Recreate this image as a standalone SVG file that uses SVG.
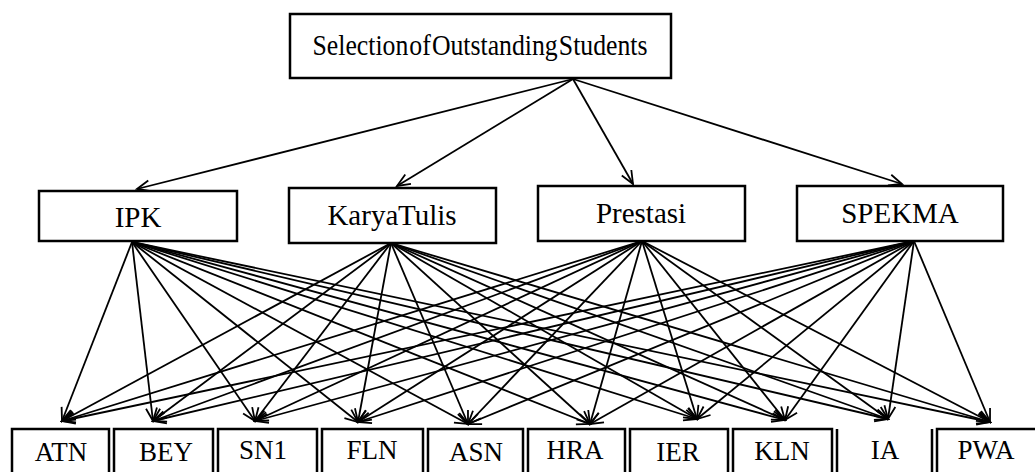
<svg xmlns="http://www.w3.org/2000/svg" width="1035" height="472" viewBox="0 0 1035 472">
<style>
.box{fill:#fff;stroke:#000;stroke-width:2.5}
.t{font-family:"Liberation Serif","Times New Roman",serif;fill:#000;text-anchor:middle}
.tt{font-size:29px;word-spacing:-6px}
.mt{font-size:29px;word-spacing:-7px}
.bt{font-size:27px}
.c{stroke:#000;stroke-width:1.8;fill:none;marker-end:url(#ah)}
</style>
<defs>
<marker id="ah" markerWidth="16" markerHeight="14" refX="14" refY="7" orient="auto" markerUnits="userSpaceOnUse">
<path d="M1,1.5 L14,7 L1,12.5" fill="none" stroke="#000" stroke-width="1.8"/>
</marker>
</defs>
<rect width="1035" height="472" fill="#fff"/>
<g id="connectors">
<line class="c" x1="573" y1="79" x2="137" y2="189"/>
<line class="c" x1="573" y1="79" x2="397" y2="186"/>
<line class="c" x1="573" y1="79" x2="633" y2="184"/>
<line class="c" x1="573" y1="79" x2="902" y2="184"/>
<g id="from-ipk">
<line class="c" x1="132" y1="242" x2="62" y2="421"/>
<line class="c" x1="132" y1="242" x2="153" y2="421"/>
<line class="c" x1="132" y1="242" x2="255" y2="421"/>
<line class="c" x1="132" y1="242" x2="358" y2="422"/>
<line class="c" x1="132" y1="242" x2="468" y2="424"/>
<line class="c" x1="132" y1="242" x2="590" y2="424"/>
<line class="c" x1="132" y1="242" x2="697" y2="419"/>
<line class="c" x1="132" y1="242" x2="785" y2="420"/>
<line class="c" x1="132" y1="242" x2="888" y2="419"/>
<line class="c" x1="132" y1="242" x2="990" y2="422"/>
</g>
<g id="from-karya">
<line class="c" x1="391" y1="243" x2="62" y2="421"/>
<line class="c" x1="391" y1="243" x2="153" y2="421"/>
<line class="c" x1="391" y1="243" x2="255" y2="421"/>
<line class="c" x1="391" y1="243" x2="358" y2="422"/>
<line class="c" x1="391" y1="243" x2="468" y2="424"/>
<line class="c" x1="391" y1="243" x2="590" y2="424"/>
<line class="c" x1="391" y1="243" x2="697" y2="419"/>
<line class="c" x1="391" y1="243" x2="785" y2="420"/>
<line class="c" x1="391" y1="243" x2="888" y2="419"/>
<line class="c" x1="391" y1="243" x2="990" y2="422"/>
</g>
<g id="from-prestasi">
<line class="c" x1="642" y1="241" x2="62" y2="421"/>
<line class="c" x1="642" y1="241" x2="153" y2="421"/>
<line class="c" x1="642" y1="241" x2="255" y2="421"/>
<line class="c" x1="642" y1="241" x2="358" y2="422"/>
<line class="c" x1="642" y1="241" x2="468" y2="424"/>
<line class="c" x1="642" y1="241" x2="590" y2="424"/>
<line class="c" x1="642" y1="241" x2="697" y2="419"/>
<line class="c" x1="642" y1="241" x2="785" y2="420"/>
<line class="c" x1="642" y1="241" x2="888" y2="419"/>
<line class="c" x1="642" y1="241" x2="990" y2="422"/>
</g>
<g id="from-spekma">
<line class="c" x1="914" y1="241" x2="62" y2="421"/>
<line class="c" x1="914" y1="241" x2="153" y2="421"/>
<line class="c" x1="914" y1="241" x2="255" y2="421"/>
<line class="c" x1="914" y1="241" x2="358" y2="422"/>
<line class="c" x1="914" y1="241" x2="468" y2="424"/>
<line class="c" x1="914" y1="241" x2="590" y2="424"/>
<line class="c" x1="914" y1="241" x2="697" y2="419"/>
<line class="c" x1="914" y1="241" x2="785" y2="420"/>
<line class="c" x1="914" y1="241" x2="888" y2="419"/>
<line class="c" x1="914" y1="241" x2="990" y2="422"/>
</g>
</g>
<g id="root">
<rect class="box" x="290" y="14" width="381" height="64"/>
<text class="t tt" x="480" y="55" textLength="335" lengthAdjust="spacingAndGlyphs">Selection of Outstanding Students</text>
</g>
<g id="ipk">
<rect class="box" x="39" y="191" width="198" height="50"/>
<text class="t mt" x="138" y="227">IPK</text>
</g>
<g id="karya-tulis">
<rect class="box" x="289" y="188" width="207" height="55"/>
<text class="t mt" x="392" y="225">Karya Tulis</text>
</g>
<g id="prestasi">
<rect class="box" x="538" y="186" width="207" height="55"/>
<text class="t mt" x="641" y="223">Prestasi</text>
</g>
<g id="spekma">
<rect class="box" x="797" y="186" width="206" height="55"/>
<text class="t mt" x="900" y="223">SPEKMA</text>
</g>
<g id="atn"><rect class="box" x="12" y="429" width="97" height="60"/><text class="t bt" x="61" y="461">ATN</text></g>
<g id="bey"><rect class="box" x="114" y="429" width="99" height="60"/><text class="t bt" x="166" y="461">BEY</text></g>
<g id="sn1"><rect class="box" x="218" y="429" width="99" height="60"/><text class="t bt" x="263" y="459">SN1</text></g>
<g id="fln"><rect class="box" x="322" y="429" width="101" height="60"/><text class="t bt" x="372" y="459">FLN</text></g>
<g id="asn"><rect class="box" x="428" y="429" width="95" height="60"/><text class="t bt" x="476" y="461">ASN</text></g>
<g id="hra"><rect class="box" x="528" y="429" width="97" height="60"/><text class="t bt" x="575" y="459">HRA</text></g>
<g id="ier"><rect class="box" x="630" y="429" width="98" height="60"/><text class="t bt" x="678" y="461">IER</text></g>
<g id="kln"><rect class="box" x="733" y="429" width="99" height="60"/><text class="t bt" x="782" y="460">KLN</text></g>
<g id="ia"><path d="M837,429 V489 M932,429 V489" stroke="#000" stroke-width="2.5" fill="none"/><text class="t bt" x="885" y="459">IA</text></g>
<g id="pwa"><rect class="box" x="937" y="429" width="110" height="60"/><text class="t bt" x="986" y="459">PWA</text></g>
</svg>
